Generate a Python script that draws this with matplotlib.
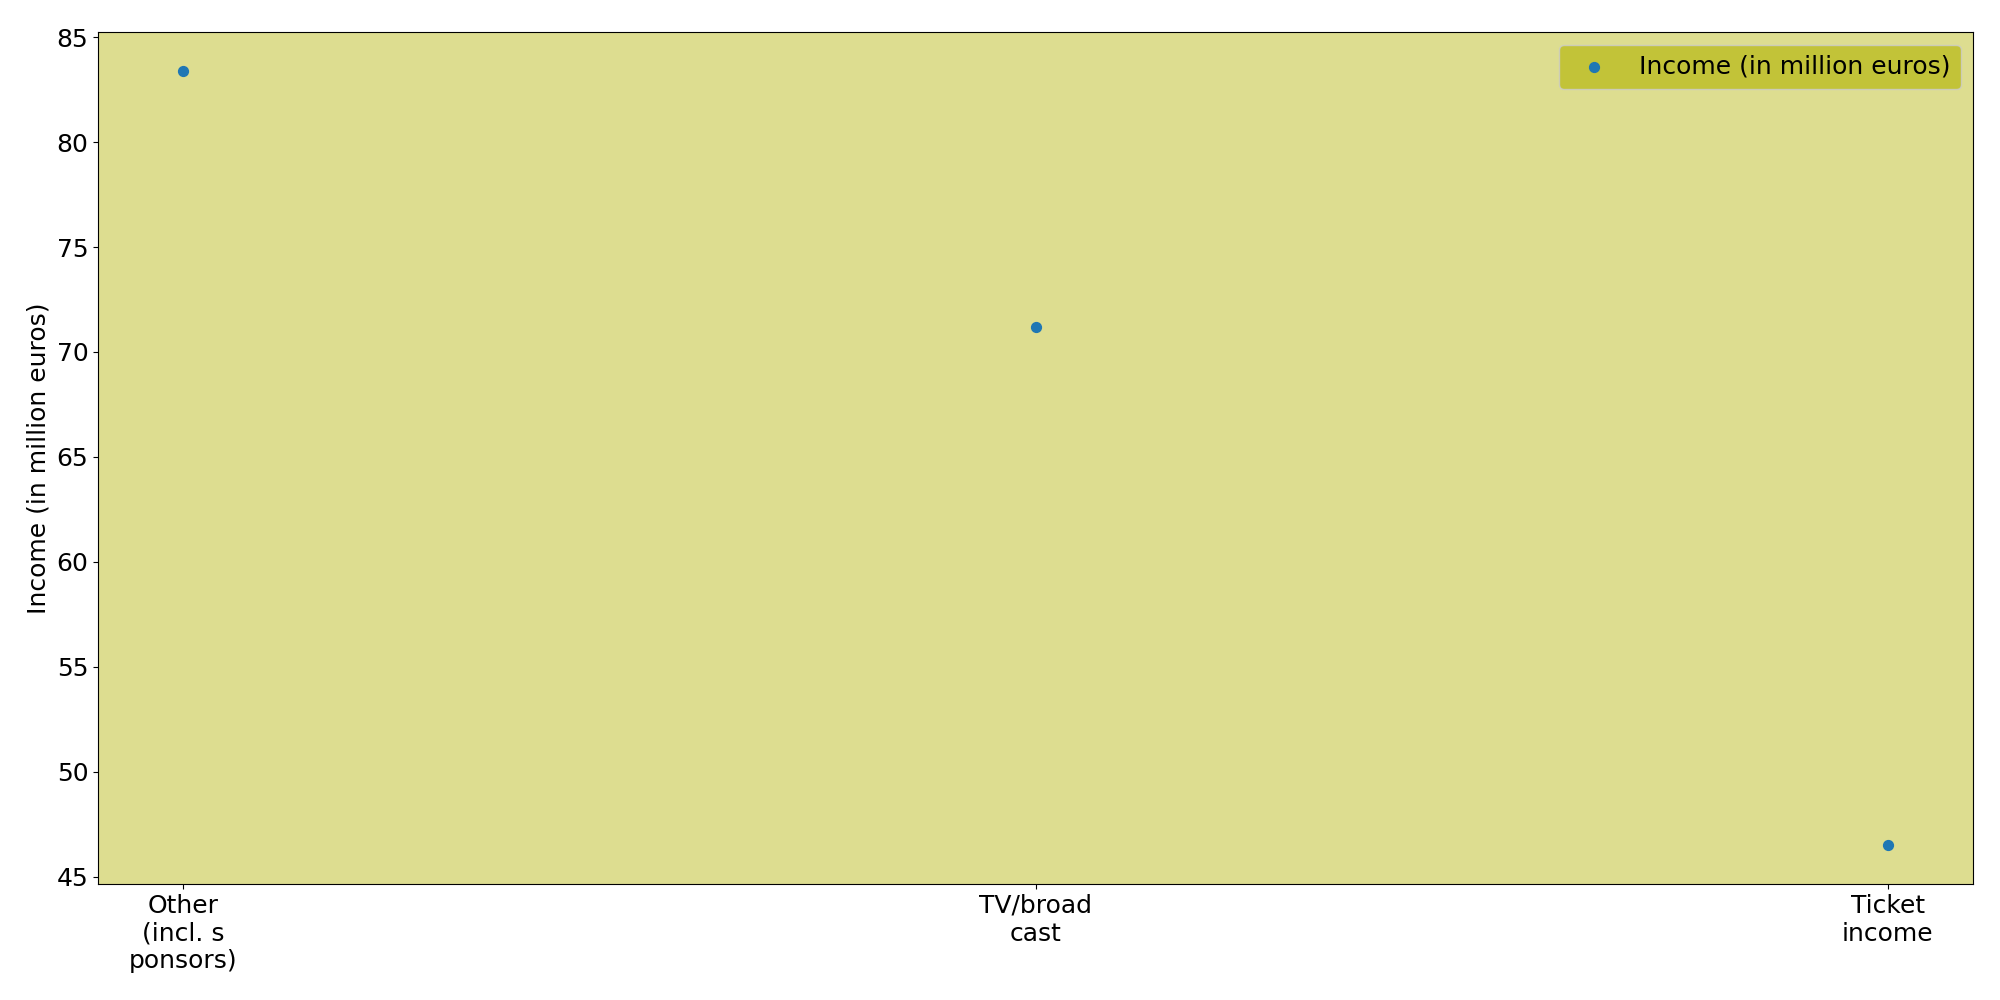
import matplotlib
matplotlib.use("Agg")
import matplotlib.pyplot as plt

# data
categories = ["Other\n(incl. s\nponsors)", "TV/broad\ncast", "Ticket\nincome"]
income = [83.4, 71.2, 46.5]
series_label = "Income (in million euros)"

fig, ax = plt.subplots(figsize=(20, 10), dpi=100)
ax.set_facecolor((0.737, 0.741, 0.133, 0.5))

ax.scatter(range(len(categories)), income, s=50, color="#1f77b4", label=series_label, zorder=3)
ax.set_xticks(range(len(categories)))
ax.set_xticklabels(categories)
ax.set_ylabel(series_label, fontsize=18)
ax.tick_params(labelsize=18)

leg = ax.legend(fontsize=18, loc="upper right", facecolor="#bcbd22", framealpha=0.8)

fig.subplots_adjust(left=0.049, right=0.9865, top=0.968, bottom=0.116)
plt.savefig("out.png", dpi=100)
